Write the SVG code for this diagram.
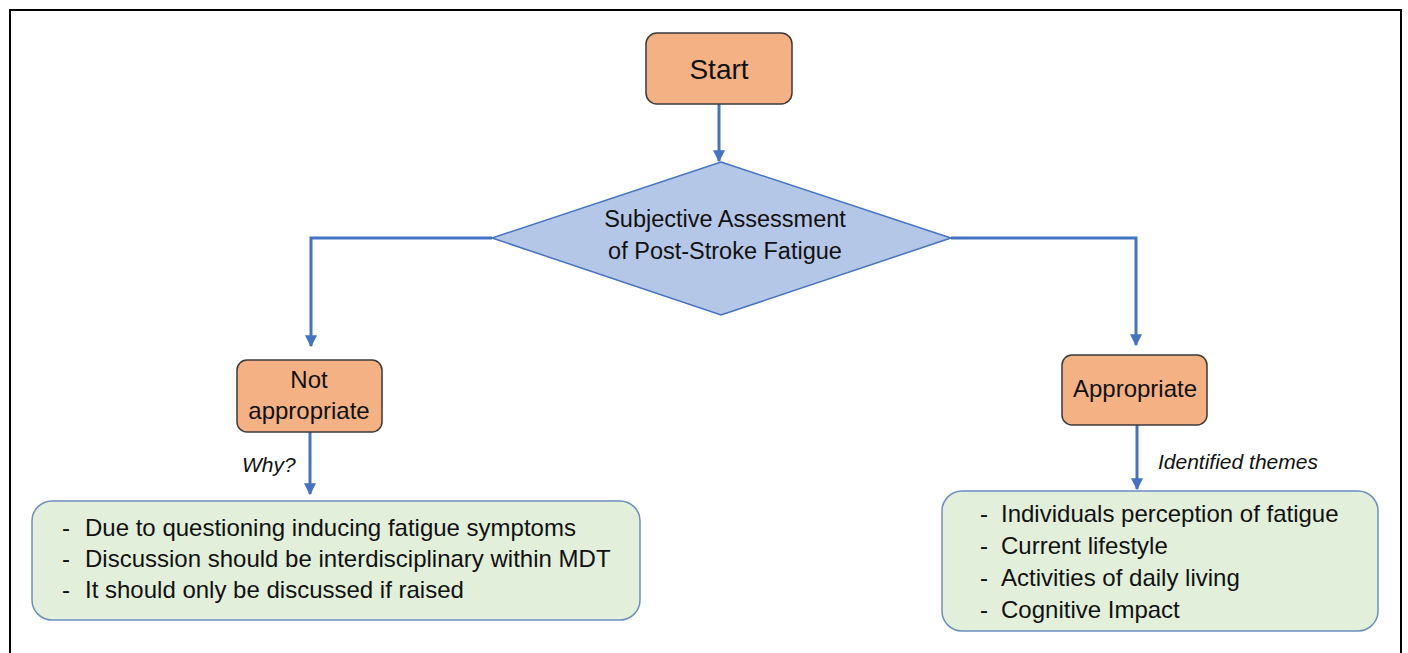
<svg xmlns="http://www.w3.org/2000/svg" width="1408" height="653" viewBox="0 0 1408 653">
<defs>
<style>
.t{font-family:"Liberation Sans","Open Sans",Arial,sans-serif;font-size:24px;fill:#111}
.c{text-anchor:middle}
.i{font-style:italic;font-size:21px}
.big{font-size:28px}
.mid{font-size:23.5px}
.orange{fill:#F4B183;stroke:#3a3a3a;stroke-width:1.5}
.green{fill:#E2EFDA;stroke:#6C8EC0;stroke-width:1.5}
.conn{fill:none;stroke:#4472C4;stroke-width:3}
</style>
<marker id="ah" viewBox="0 0 10 10" refX="9" refY="5" markerWidth="4" markerHeight="4" orient="auto" markerUnits="strokeWidth">
<path d="M0,0 L10,5 L0,10 z" fill="#4472C4"/>
</marker>
</defs>
<rect width="1408" height="653" fill="#fff"/>
<rect x="10" y="10" width="1391" height="700" fill="none" stroke="#000" stroke-width="2"/>
<g id="connectors">
<path class="conn" d="M719,104 V161" marker-end="url(#ah)"/>
<path class="conn" d="M492,238 H311 V346" marker-end="url(#ah)"/>
<path class="conn" d="M951,238 H1136 V345" marker-end="url(#ah)"/>
<path class="conn" d="M310,432 V494" marker-end="url(#ah)"/>
<path class="conn" d="M1137,425 V489" marker-end="url(#ah)"/>
<text class="t i" x="242" y="472">Why?</text>
<text class="t i" x="1158" y="469">Identified themes</text>
</g>
<g id="start">
<rect class="orange" x="646" y="33" width="146" height="71" rx="11"/>
<text class="t c big" x="719" y="79">Start</text>
</g>
<g id="assessment">
<polygon points="721,162 951,238 721,315 492,238" fill="#B4C7E7" stroke="#4472C4" stroke-width="1.5"/>
<text class="t c mid" x="725" y="227">Subjective Assessment</text>
<text class="t c mid" x="725" y="259">of Post-Stroke Fatigue</text>
</g>
<g id="not-appropriate">
<rect class="orange" x="237" y="360" width="145" height="72" rx="10"/>
<text class="t c" x="309" y="388">Not</text>
<text class="t c" x="309" y="419">appropriate</text>
</g>
<g id="appropriate">
<rect class="orange" x="1062" y="355" width="145" height="70" rx="10"/>
<text class="t c" x="1135" y="397">Appropriate</text>
</g>
<g id="reasons">
<rect class="green" x="32" y="501" width="608" height="119" rx="20"/>
<text class="t" x="62" y="536">-</text>
<text class="t" x="85" y="536">Due to questioning inducing fatigue symptoms</text>
<text class="t" x="62" y="567">-</text>
<text class="t" x="85" y="567">Discussion should be interdisciplinary within MDT</text>
<text class="t" x="62" y="598">-</text>
<text class="t" x="85" y="598">It should only be discussed if raised</text>
</g>
<g id="themes">
<rect class="green" x="942" y="491" width="436" height="140" rx="20"/>
<text class="t" x="980" y="522">-</text>
<text class="t" x="1001" y="522">Individuals perception of fatigue</text>
<text class="t" x="980" y="554">-</text>
<text class="t" x="1001" y="554">Current lifestyle</text>
<text class="t" x="980" y="586">-</text>
<text class="t" x="1001" y="586">Activities of daily living</text>
<text class="t" x="980" y="618">-</text>
<text class="t" x="1001" y="618">Cognitive Impact</text>
</g>
</svg>
